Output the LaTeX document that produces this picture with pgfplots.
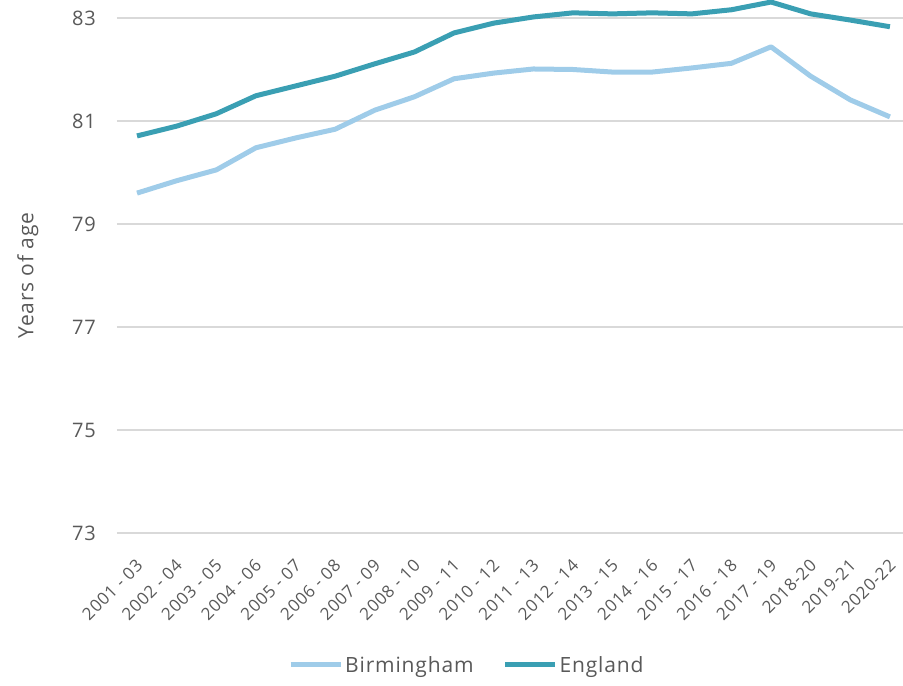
\documentclass[border=0pt]{standalone}
\usepackage{pgfplots}
\pgfplotsset{compat=1.18}
\usepackage{fontspec}
\setmainfont{Open Sans}[LetterSpace=4.0]
\definecolor{txt}{HTML}{595959}
\definecolor{grd}{HTML}{D9D9D9}
\definecolor{bham}{HTML}{9FCCE9}
\definecolor{eng}{HTML}{3A9FB3}
\begin{document}
\begin{tikzpicture}
\useasboundingbox (-117bp,-153bp) rectangle (786bp,533bp);
\begin{axis}[
  scale only axis,
  width=786bp, height=515bp,
  xmin=-0.505, xmax=19.33,
  ymin=73, ymax=83,
  ytick={73,75,77,79,81,83},
  xtick={0,...,19},
  xticklabels={2001 - 03,2002 - 04,2003 - 05,2004 - 06,2005 - 07,2006 - 08,2007 - 09,2008 - 10,2009 - 11,2010 - 12,2011 - 13,2012 - 14,2013 - 15,2014 - 16,2015 - 17,2016 - 18,2017 - 19,2018-20,2019-21,2020-22},
  /pgf/number format/assume math mode=true,
  axis line style={draw=none},
  major tick length=0pt,
  ymajorgrids,
  grid style={grd, line width=1.2bp},
  clip=false,
  yticklabel style={font=\fontsize{20bp}{24bp}\selectfont, text=txt, anchor=east, inner sep=0pt, xshift=-21bp},
  xticklabel style={font=\fontsize{17bp}{20bp}\selectfont, text=txt, xshift=-2bp, yshift=-25bp, rotate=45, anchor=north east, inner sep=0pt},
  ylabel={Years of age},
  ylabel style={font=\fontsize{21bp}{25bp}\selectfont, text=txt, at={(axis description cs:-0.0954,0.5)}, anchor=south, rotate=0},
  legend columns=2,
  legend style={at={(axis description cs:0.445,-0.256)}, anchor=center, draw=none, font=\fontsize{21bp}{25bp}\selectfont, text=txt, /tikz/every even column/.append style={column sep=27bp}, inner sep=0pt},
  legend image code/.code={\draw[#1] (0bp,0bp) -- (50bp,0bp);},
]
\addplot[bham, line width=5bp, line join=round] coordinates {
(0,79.60) (1,79.84) (2,80.05) (3,80.48) (4,80.67) (5,80.84) (6,81.21) (7,81.47) (8,81.82) (9,81.93)
(10,82.01) (11,82.00) (12,81.95) (13,81.95) (14,82.03) (15,82.12) (16,82.44) (17,81.87) (18,81.41) (19,81.08)
};
\addlegendentry{Birmingham}
\addplot[eng, line width=5bp, line join=round] coordinates {
(0,80.71) (1,80.90) (2,81.14) (3,81.49) (4,81.68) (5,81.87) (6,82.11) (7,82.34) (8,82.71) (9,82.90)
(10,83.02) (11,83.10) (12,83.08) (13,83.10) (14,83.08) (15,83.16) (16,83.31) (17,83.08) (18,82.96) (19,82.83)
};
\addlegendentry{England}
\end{axis}
\end{tikzpicture}
\end{document}
